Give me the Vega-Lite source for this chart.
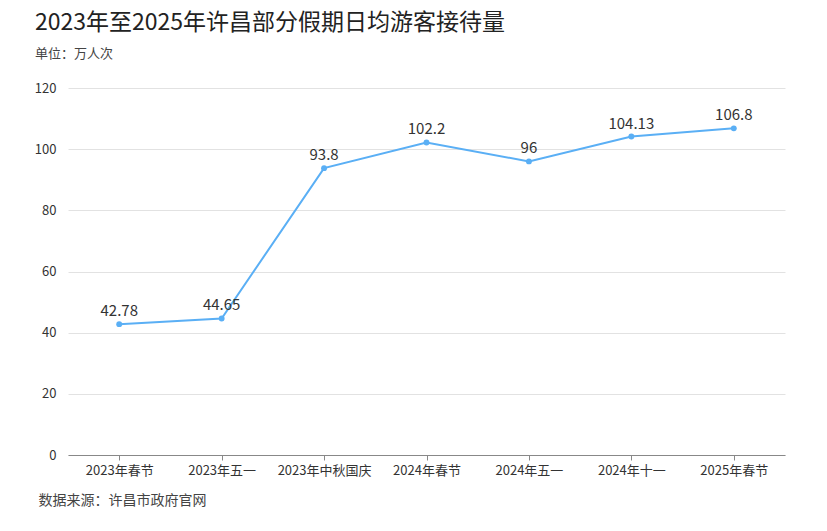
{
  "$schema": "https://vega.github.io/schema/vega-lite/v6.json",
  "width": 717,
  "height": 367,
  "autosize": "none",
  "padding": {"left": 68, "top": 88, "right": 42, "bottom": 76},
  "background": "white",
  "title": {
    "text": "2023年至2025年许昌部分假期日均游客接待量",
    "subtitle": "单位：万人次",
    "anchor": "start",
    "frame": "group",
    "dx": -33,
    "offset": 21,
    "font": "Noto Sans CJK SC",
    "fontSize": 23,
    "fontWeight": "normal",
    "color": "#222222",
    "subtitleFont": "Noto Sans CJK SC",
    "subtitleFontSize": 13,
    "subtitleColor": "#444444",
    "subtitlePadding": 13
  },
  "data": {
    "values": [
      {"holiday": "2023年春节", "value": 42.78},
      {"holiday": "2023年五一", "value": 44.65},
      {"holiday": "2023年中秋国庆", "value": 93.8},
      {"holiday": "2024年春节", "value": 102.2},
      {"holiday": "2024年五一", "value": 96},
      {"holiday": "2024年十一", "value": 104.13},
      {"holiday": "2025年春节", "value": 106.8}
    ]
  },
  "encoding": {
    "x": {
      "field": "holiday",
      "type": "nominal",
      "sort": null,
      "scale": {"type": "point", "padding": 0.5},
      "axis": {
        "labelAngle": 0,
        "labelFont": "Noto Sans CJK SC",
        "labelFontSize": 13,
        "labelColor": "#333333",
        "labelPadding": 4,
        "domainColor": "#888888",
        "tickColor": "#888888",
        "tickSize": 5,
        "title": "数据来源：许昌市政府官网",
        "titleAnchor": "start",
        "titleAlign": "left",
        "titleX": -30,
        "titleY": 38,
        "titleFont": "Noto Sans CJK SC",
        "titleFontSize": 14,
        "titleFontWeight": "normal",
        "titleColor": "#444444",
        "grid": false
      }
    },
    "y": {
      "field": "value",
      "type": "quantitative",
      "scale": {"domain": [0, 120]},
      "axis": {
        "values": [0, 20, 40, 60, 80, 100, 120],
        "title": null,
        "domain": false,
        "ticks": false,
        "labelPadding": 12,
        "labelFont": "Noto Sans CJK SC",
        "labelFontSize": 13,
        "labelColor": "#333333",
        "gridColor": "#e2e2e2"
      }
    }
  },
  "layer": [
    {"mark": {"type": "line", "color": "#5aaff5", "strokeWidth": 2}},
    {"mark": {"type": "point", "filled": true, "color": "#5aaff5", "size": 35, "opacity": 1}},
    {
      "mark": {"type": "text", "dy": -13, "font": "Noto Sans CJK SC", "fontSize": 15, "color": "#333333"},
      "encoding": {"text": {"field": "value", "type": "quantitative"}}
    }
  ],
  "config": {"view": {"stroke": null}}
}
